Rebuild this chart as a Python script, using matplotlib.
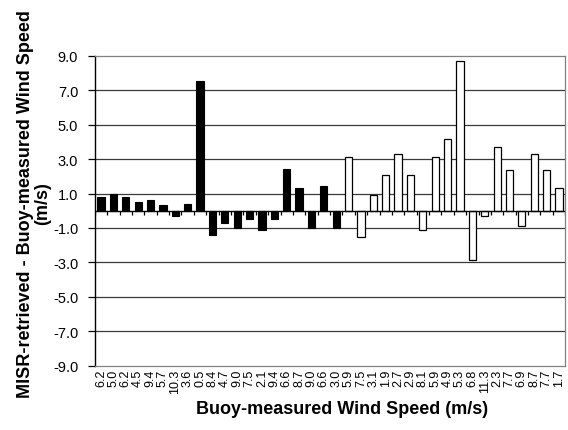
"""
MISR minus buoy wind speed difference, bar chart
"""

import numpy as np
import matplotlib
matplotlib.use("Agg")
import matplotlib.pyplot as plt

# buoy-measured wind speed labels (m/s), one per bar
buoy_labels = ["6.2", "5.0", "6.2", "4.5", "9.4", "5.7", "10.3", "3.6", "0.5", "8.4",
               "4.7", "9.0", "7.5", "2.1", "9.4", "6.6", "8.7", "9.0", "6.6", "3.0",
               "5.9", "7.5", "3.1", "1.9", "2.7", "2.9", "8.1", "5.9", "4.9", "5.3",
               "6.8", "11.3", "2.3", "7.7", "6.9", "8.7", "7.7", "1.7"]

# MISR-retrieved - buoy-measured (m/s), filled bars then open bars
diff_black = [0.8, 1.0, 0.8, 0.5, 0.6, 0.35, -0.3, 0.4, 7.55, -1.4,
              -0.7, -1.0, -0.5, -1.1, -0.45, 2.4, 1.3, -1.0, 1.45, -1.0]
diff_white = [3.15, -1.5, 0.9, 2.1, 3.3, 2.1, -1.1, 3.15, 4.15, 8.7,
              -2.85, -0.3, 3.7, 2.35, -0.9, 3.3, 2.35, 1.3]

y_ticks = [9.0, 7.0, 5.0, 3.0, 1.0, -1.0, -3.0, -5.0, -7.0, -9.0]

FONT = ["Liberation Sans", "DejaVu Sans"]
BAR_W = 0.58


def main():
    plt.rcParams["font.family"] = FONT
    fig = plt.figure(figsize=(5.68, 4.31), dpi=100)
    ax = fig.add_axes([0.167, 0.149, 0.828, 0.7193])

    n_black = len(diff_black)
    xb = np.arange(n_black)
    xw = np.arange(n_black, n_black + len(diff_white))
    n = len(buoy_labels)

    # grid lines at the odd values
    for v in y_ticks[1:-1]:
        ax.axhline(v, color="#3a3a3a", lw=0.9, zorder=1)

    ax.bar(xb, diff_black, width=BAR_W, color="black", edgecolor="black",
           lw=0.8, zorder=3)
    ax.bar(xw, diff_white, width=BAR_W, color="white", edgecolor="black",
           lw=0.9, zorder=3)

    # category axis crossing at zero with small ticks between bars
    ax.axhline(0, color="black", lw=1.0, zorder=4)
    bounds = np.arange(n + 1) - 0.5
    ax.vlines(bounds, -0.25, 0, color="black", lw=0.9, zorder=4)

    ax.set_xlim(-0.5, n - 0.5)
    ax.set_ylim(-9.0, 9.0)
    ax.set_yticks(y_ticks)
    ax.set_yticklabels(["%.1f" % v for v in y_ticks], fontsize=10.5)
    ax.set_xticks(np.arange(n))
    ax.set_xticklabels(buoy_labels, rotation=90, fontsize=9)
    ax.tick_params(axis="x", length=0, pad=2)
    ax.tick_params(axis="y", direction="out", length=5, width=0.9, pad=7)

    for side in ["top", "right", "bottom"]:
        ax.spines[side].set_color("#808080")
        ax.spines[side].set_linewidth(0.9)
    ax.spines["left"].set_color("black")
    ax.spines["left"].set_linewidth(1.0)

    fig.text(34 / 568, 1 - 204 / 431,
             "MISR-retrieved - Buoy-measured Wind Speed\n(m/s)",
             rotation=90, ha="center", va="center", multialignment="center",
             fontsize=13, fontweight="bold", linespacing=1.05)
    fig.text(342 / 568, 1 - 410 / 431, "Buoy-measured Wind Speed (m/s)",
             ha="center", va="center", fontsize=13, fontweight="bold")

    fig.savefig("out.png", dpi=100)


if __name__ == '__main__':
    main()
